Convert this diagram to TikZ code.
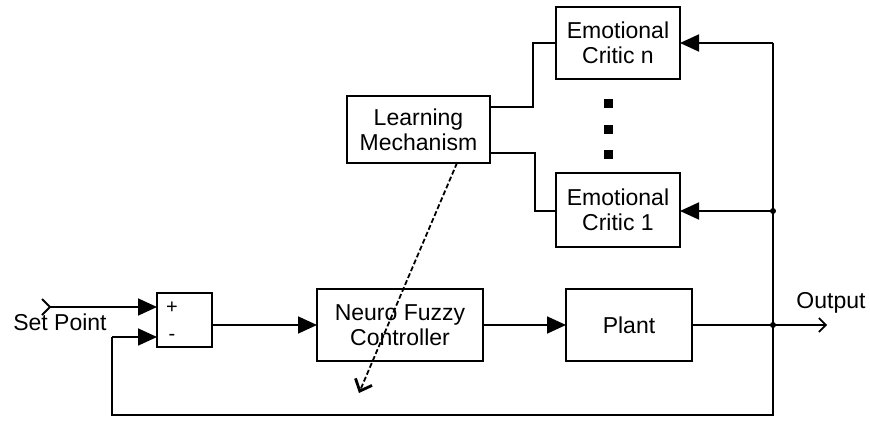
\documentclass[tikz,border=0pt]{standalone}
\usepackage{fontspec}
\setmainfont{Liberation Sans}
\usetikzlibrary{arrows.meta}
\begin{document}
\begin{tikzpicture}[x=1pt,y=-1pt,
  every node/.style={font=\fontsize{23}{25}\selectfont},
  blk/.style={draw,line width=1.8pt,rectangle,inner sep=0pt,outer sep=0pt,align=center},
  wire/.style={line width=1.8pt},
  fa/.style={wire,-{Triangle[length=19pt,width=17pt]}},
  jdot/.style={circle,fill,inner sep=0pt,minimum size=6pt},
  sq/.style={fill,rectangle,inner sep=0pt,minimum size=9pt}]
\useasboundingbox (0,0) rectangle (870,425);
% blocks
\node[blk,minimum width=55pt,minimum height=54pt] (sum) at (184.5,320) {};
\node[font=\fontsize{20}{20}\selectfont] (plus) at (172,308) {+};
\node[font=\fontsize{20}{20}\selectfont] (minus) at (172,337) {-};
\node[blk,minimum width=166pt,minimum height=72pt] (nfc) at (400,325) {Neuro Fuzzy\\Controller};
\node[blk,minimum width=126pt,minimum height=72pt] (plant) at (629,325) {Plant};
\node[blk,minimum width=143pt,minimum height=67pt] (lm) at (418.5,129.5) {Learning\\Mechanism};
\node[blk,minimum width=124pt,minimum height=72pt] (ecn) at (618,43) {Emotional\\Critic n};
\node[blk,minimum width=124pt,minimum height=74pt] (ec1) at (618,210) {Emotional\\Critic 1};
\node[sq] (d1) at (608,104) {};
\node[sq] (d2) at (608,130) {};
\node[sq] (d3) at (608,155) {};
% labels
\node (splbl) at (60,322) {Set Point};
\node (outlbl) at (831,303) {Output};
% coordinates
\coordinate (spin) at (50,307);
\coordinate (out) at (827,325);
\coordinate (j1) at (773,325);
\coordinate (j2) at (773,211);
\coordinate (top) at (773,43);
\coordinate (bot) at (773,415);
\coordinate (fbl) at (112,415);
\coordinate (dtip) at (359,393);
\coordinate (dstart) at (457,163);
% set point input
\draw[wire] (spin) -- ++(-8,-8) (spin) -- ++(-8,8);
\draw[fa] (spin) -- (spin -| sum.west);
% forward path
\draw[fa] (sum.east |- nfc.west) -- (nfc.west);
\draw[fa] (nfc.east) -- (plant.west);
\draw[wire,-{Straight Barb[length=7pt,width=14pt,line width=1.6pt]}] (plant.east) -- (out);
% feedback
\draw[wire] (top) -- (bot) -- (fbl) -- (fbl |- minus);
\draw[fa] (fbl |- minus) -- (minus -| sum.west);
\draw[fa] (top) -- (ecn.east);
\draw[fa] (j2) -- (ec1.east |- j2);
\node[jdot] at (j1) {};
\node[jdot] at (j2) {};
% critics to learning mechanism
\draw[wire] (ecn.west) -- (533,43) -- (533,107) -- (lm.east |- 0,107);
\draw[wire] (ec1.west |- j2) -- (535,211) -- (535,153) -- (lm.east |- 0,153);
% learning signal
\draw[wire,dash pattern=on 5pt off 2.5pt,-{Straight Barb[length=10pt,width=18pt,line width=2.8pt]}] (dstart) -- (dtip);
\end{tikzpicture}
\end{document}
